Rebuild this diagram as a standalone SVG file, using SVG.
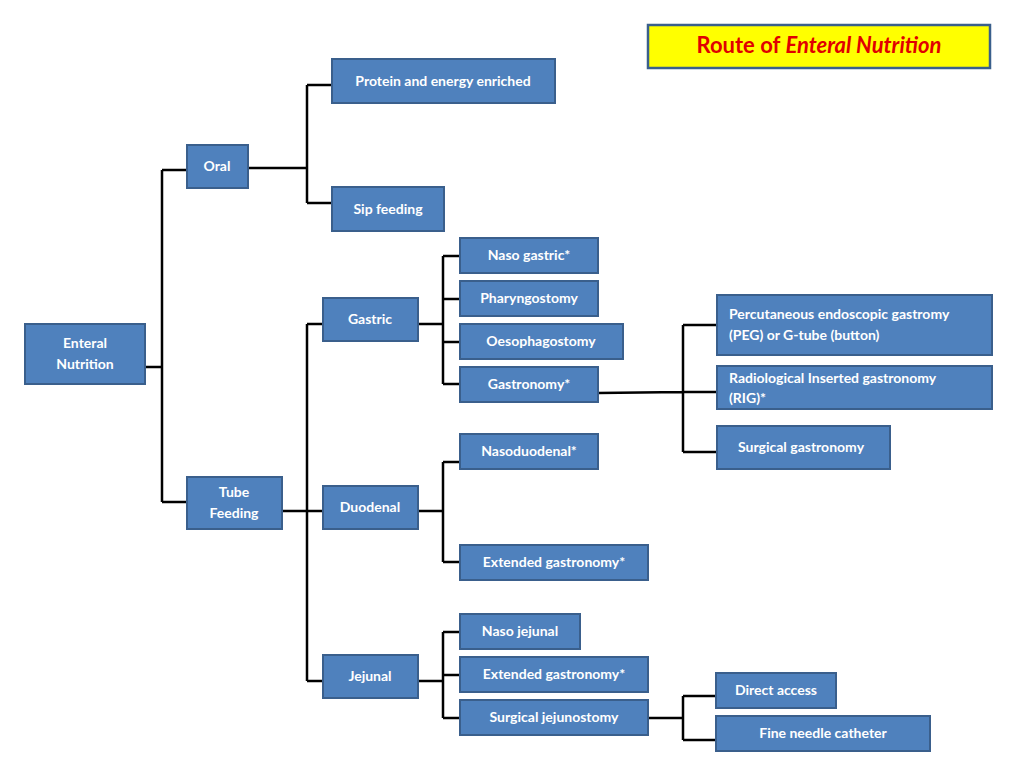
<svg xmlns="http://www.w3.org/2000/svg" width="1024" height="768" viewBox="0 0 1024 768">
<style>
.b{fill:#4F81BD;stroke:#3A5F8C;stroke-width:2}
.t{fill:#fff;font-family:Lato,"Open Sans","Liberation Sans",sans-serif;font-weight:bold;font-size:14px;text-anchor:middle;dominant-baseline:middle}
.l{text-anchor:start}
#c path{fill:none;stroke:#000;stroke-width:2.5}
</style>
<rect width="1024" height="768" fill="#fff"/>
<g id="title"><rect x="648" y="25" width="342" height="43" fill="#FFFF00" stroke="#3A5F8C" stroke-width="2.5"/>
<text x="819" y="47" font-family="Lato,'Open Sans','Liberation Sans',sans-serif" font-weight="bold" font-size="22" fill="#E00000" text-anchor="middle" dominant-baseline="middle">Route of <tspan font-style="italic">Enteral Nutrition</tspan></text></g>
<g id="c">
<path d="M145 367H162M162 170V502M162 170H187M162 502H187"/>
<path d="M248 168H307M307 85V203M307 85H332M307 203H332"/>
<path d="M282 511H307M307 324V681M307 324H323M307 511H323M307 681H323"/>
<path d="M418 324H443M443 256V384M443 256H460M443 299H460M443 342H460M443 384H460"/>
<path d="M598 393L683 392M683 325V452M683 325H717M683 392H717M683 452H717"/>
<path d="M418 511H443M443 462V562M443 462H460M443 562H460"/>
<path d="M418 681H443M443 632V718M443 632H460M443 675H460M443 718H460"/>
<path d="M648 718H683M683 696V740M683 696H716M683 740H716"/>
</g>
<g id="n-protein"><rect class="b" x="332" y="59" width="223" height="44"/><text class="t" x="443" y="82">Protein and energy enriched</text></g>
<g id="n-oral"><rect class="b" x="187" y="145" width="61" height="43"/><text class="t" x="217" y="167">Oral</text></g>
<g id="n-sip"><rect class="b" x="332" y="187" width="112" height="44"/><text class="t" x="388" y="210">Sip feeding</text></g>
<g id="n-nasogastric"><rect class="b" x="460" y="238" width="138" height="35"/><text class="t" x="529" y="256">Naso gastric*</text></g>
<g id="n-pharyng"><rect class="b" x="460" y="281" width="138" height="35"/><text class="t" x="529" y="299">Pharyngostomy</text></g>
<g id="n-gastric"><rect class="b" x="323" y="298" width="95" height="43"/><text class="t" x="370" y="320">Gastric</text></g>
<g id="n-oesoph"><rect class="b" x="460" y="324" width="163" height="35"/><text class="t" x="541" y="342">Oesophagostomy</text></g>
<g id="n-gastronomy"><rect class="b" x="460" y="367" width="138" height="35"/><text class="t" x="529" y="385">Gastronomy*</text></g>
<g id="n-enteral"><rect class="b" x="25" y="324" width="120" height="60"/><text class="t" x="85" y="344">Enteral</text><text class="t" x="85" y="365">Nutrition</text></g>
<g id="n-peg"><rect class="b" x="717" y="295" width="275" height="60"/><text class="t l" x="729" y="315">Percutaneous endoscopic gastromy</text><text class="t l" x="729" y="336">(PEG) or G-tube (button)</text></g>
<g id="n-rig"><rect class="b" x="717" y="366" width="275" height="43"/><text class="t l" x="729" y="379">Radiological Inserted gastronomy</text><text class="t l" x="729" y="399">(RIG)*</text></g>
<g id="n-surggas"><rect class="b" x="717" y="426" width="173" height="43"/><text class="t" x="801" y="448">Surgical gastronomy</text></g>
<g id="n-nasoduod"><rect class="b" x="460" y="434" width="138" height="35"/><text class="t" x="529" y="452">Nasoduodenal*</text></g>
<g id="n-tube"><rect class="b" x="187" y="477" width="95" height="52"/><text class="t" x="234" y="493">Tube</text><text class="t" x="234" y="514">Feeding</text></g>
<g id="n-duodenal"><rect class="b" x="323" y="486" width="95" height="43"/><text class="t" x="370" y="508">Duodenal</text></g>
<g id="n-ext1"><rect class="b" x="460" y="545" width="188" height="35"/><text class="t" x="554" y="563">Extended gastronomy*</text></g>
<g id="n-nasojej"><rect class="b" x="460" y="614" width="120" height="35"/><text class="t" x="520" y="632">Naso jejunal</text></g>
<g id="n-ext2"><rect class="b" x="460" y="657" width="188" height="35"/><text class="t" x="554" y="675">Extended gastronomy*</text></g>
<g id="n-jejunal"><rect class="b" x="323" y="655" width="95" height="43"/><text class="t" x="370" y="677">Jejunal</text></g>
<g id="n-surgjej"><rect class="b" x="460" y="700" width="188" height="35"/><text class="t" x="554" y="718">Surgical jejunostomy</text></g>
<g id="n-direct"><rect class="b" x="716" y="673" width="120" height="35"/><text class="t" x="776" y="691">Direct access</text></g>
<g id="n-fine"><rect class="b" x="716" y="716" width="214" height="35"/><text class="t" x="823" y="734">Fine needle catheter</text></g>
</svg>
